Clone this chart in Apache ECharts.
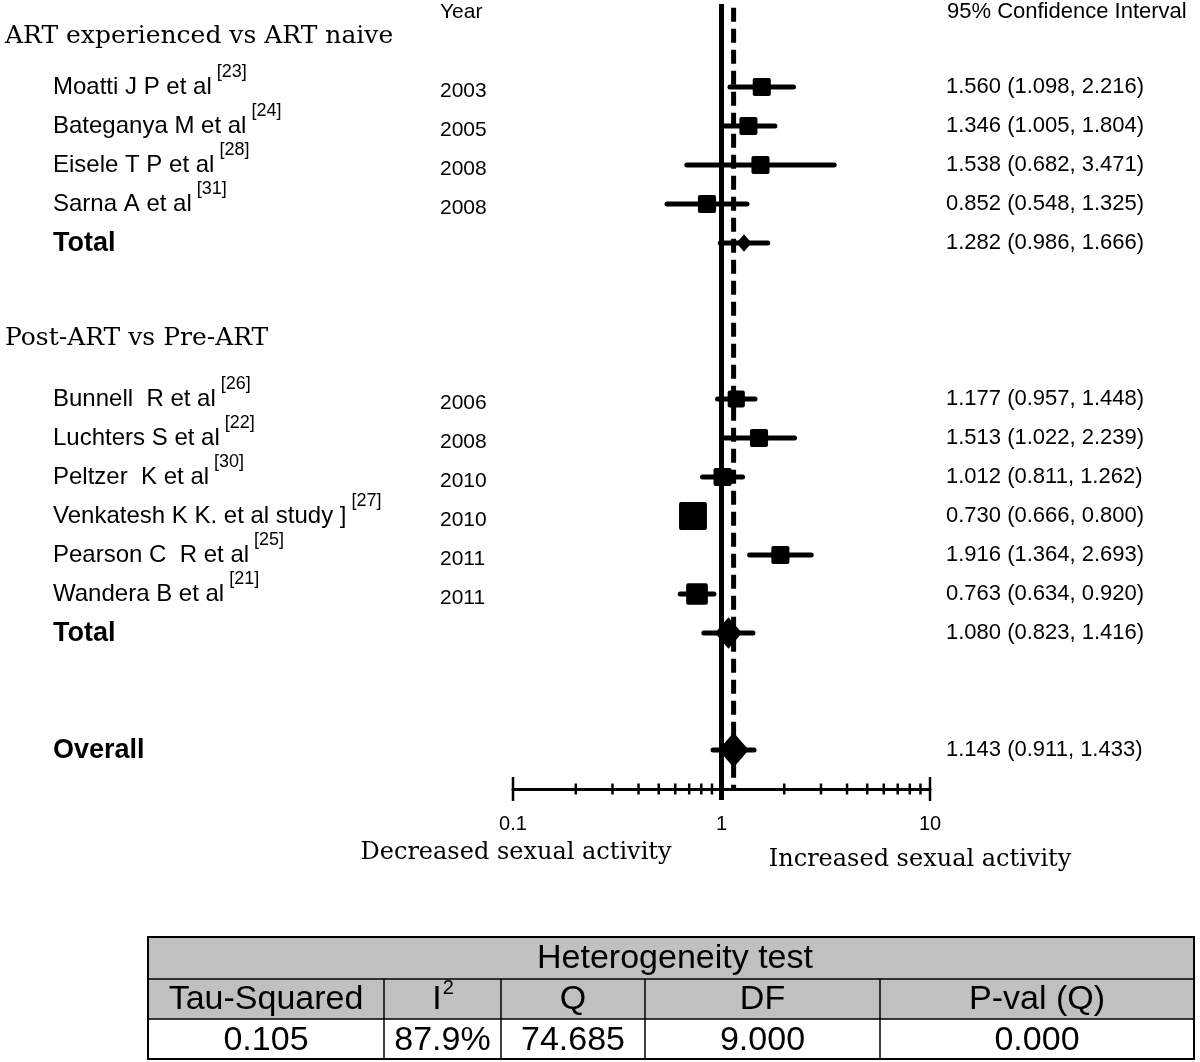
<!DOCTYPE html>
<html>
<head>
<meta charset="utf-8">
<script src="https://cdn.jsdelivr.net/npm/echarts@6/dist/echarts.min.js"></script>
<style>
html,body{margin:0;padding:0;background:#fff;}
#chart{width:1200px;height:1062px;}
</style>
</head>
<body>
<div id="chart"></div>
<script>
// ---------------- data ----------------
const sectionTitles = ['ART experienced vs ART naive', 'Post-ART vs Pre-ART'];
const studyNames = ['Moatti J P et al', 'Bateganya M et al', 'Eisele T P et al', 'Sarna A et al',
  'Bunnell  R et al', 'Luchters S et al', 'Peltzer  K et al', 'Venkatesh K K. et al study ]',
  'Pearson C  R et al', 'Wandera B et al'];
const studyRefs = ['[23]', '[24]', '[28]', '[31]', '[26]', '[22]', '[30]', '[27]', '[25]', '[21]'];
const studyYears = ['2003', '2005', '2008', '2008', '2006', '2008', '2010', '2010', '2011', '2011'];
const studySection = [0, 0, 0, 0, 1, 1, 1, 1, 1, 1];
const studyOR = [1.560, 1.346, 1.538, 0.852, 1.177, 1.513, 1.012, 0.730, 1.916, 0.763];
const studyLow = [1.098, 1.005, 0.682, 0.548, 0.957, 1.022, 0.811, 0.666, 1.364, 0.634];
const studyHigh = [2.216, 1.804, 3.471, 1.325, 1.448, 2.239, 1.262, 0.800, 2.693, 0.920];
const studyWeight = [8, 8, 8, 8, 7.2, 8, 8, 19, 8, 11.5]; // relative weights
const pooledNames = ['Total', 'Total', 'Overall'];
const pooledOR = [1.282, 1.080, 1.143];
const pooledLow = [0.986, 0.823, 0.911];
const pooledHigh = [1.666, 1.416, 1.433];
const pooledWeight = [5, 16, 20];
const xTickValues = [0.1, 1, 10];
const xTickLabels = ['0.1', '1', '10'];
const minorTickValues = [0.2, 0.3, 0.4, 0.5, 0.6, 0.7, 0.8, 0.9, 2, 3, 4, 5, 6, 7, 8, 9];
const endTickValues = [0.1, 10];
const headerYear = 'Year';
const headerCI = '95% Confidence Interval';
const sideLabels = ['Decreased sexual activity', 'Increased sexual activity'];
const hetTitle = 'Heterogeneity test';
const hetHeaders = ['Tau-Squared', 'I', 'Q', 'DF', 'P-val (Q)'];
const hetHeaderSup = ['', '2', '', '', ''];
const hetValues = ['0.105', '87.9%', '74.685', '9.000', '0.000'];

// ---------------- layout ----------------
const SANS = '"Liberation Sans", Arial, sans-serif';
const SERIF = '"DejaVu Serif", serif';
const rows = [];
let pos = 0;
sectionTitles.forEach((t, s) => {
  rows.push({ kind: 'header', s: s, pos: pos - (s === 0 ? 1.3 : 1.56) });
  studySection.forEach((sec, i) => {
    if (sec === s) { rows.push({ kind: 'study', i: i, pos: pos }); pos += 1; }
  });
  rows.push({ kind: 'pooled', i: s, pos: pos });
  pos += 4;
});
rows.push({ kind: 'pooled', i: 2, pos: pos - 1 });

const measureCtx = document.createElement('canvas').getContext('2d');
function textWidth(t, font) { measureCtx.font = font; return measureCtx.measureText(t).width; }

const fmt = v => v.toFixed(3);
const forestData = [];
const textData = [];
rows.forEach((r, k) => {
  if (r.kind === 'study') {
    const w = studyWeight[r.i];
    forestData.push([studyOR[r.i], r.pos, studyLow[r.i], studyHigh[r.i], 6.4 * Math.sqrt(w), 0]);
  } else if (r.kind === 'pooled') {
    const w = pooledWeight[r.i];
    forestData.push([pooledOR[r.i], r.pos, pooledLow[r.i], pooledHigh[r.i], 7.5 * Math.sqrt(w), 1]);
  }
  textData.push([1, r.pos, k]);
});

const chart = echarts.init(document.getElementById('chart'), null, { renderer: 'canvas' });

function textEl(text, x, y, font, align, va) {
  return { type: 'text', style: { text: text, x: x, y: y, font: font, fill: '#000', align: align || 'left', verticalAlign: va || 'middle' } };
}

const option = {
  animation: false,
  backgroundColor: '#ffffff',
  grid: { left: 513, top: 9, width: 417, height: 780, containLabel: false, outerBoundsMode: 'none' },
  xAxis: {
    type: 'log', logBase: 10, min: 0.1, max: 10,
    axisLine: { show: true, onZero: false, lineStyle: { color: '#000', width: 3 } },
    axisTick: { show: false }, minorTick: { show: false },
    splitLine: { show: false },
    axisLabel: {
      color: '#000', fontSize: 20, fontFamily: SANS, margin: 25,
      formatter: v => {
        let best = 0;
        xTickValues.forEach((t, j) => { if (Math.abs(Math.log10(t) - Math.log10(v)) < Math.abs(Math.log10(xTickValues[best]) - Math.log10(v))) best = j; });
        return xTickLabels[best];
      }
    }
  },
  yAxis: { type: 'value', inverse: true, min: -2, max: 18, show: false },
  series: [
    {
      type: 'line', data: [[1, -2.13], [1, 18.28]], showSymbol: false, symbol: 'none', clip: false, silent: true,
      lineStyle: { color: '#000', width: 5 }, z: 3
    },
    {
      type: 'line', data: [[pooledOR[2], -2.03], [pooledOR[2], 18.0]], showSymbol: false, symbol: 'none', clip: false, silent: true,
      lineStyle: { color: '#000', width: 5, type: [14, 7] }, z: 3
    },
    {
      type: 'custom', clip: false, silent: true, z: 4,
      data: minorTickValues.map(v => [v, 18, 5.5]).concat(endTickValues.map(v => [v, 18, 12])),
      renderItem: (params, api) => {
        const p = api.coord([api.value(0), api.value(1)]);
        const len = api.value(2);
        return { type: 'line', shape: { x1: p[0], y1: p[1] - len, x2: p[0], y2: p[1] + len }, style: { stroke: '#000', lineWidth: 2.5 } };
      }
    },
    {
      type: 'custom', clip: false, silent: true, z: 5,
      dimensions: ['or', 'pos', 'lo', 'hi', 'size', 'kind'],
      encode: { x: 0, y: 1 },
      data: forestData,
      renderItem: (params, api) => {
        const y = api.value(1);
        const c = api.coord([api.value(0), y]);
        const l = api.coord([api.value(2), y]);
        const h = api.coord([api.value(3), y]);
        const s = api.value(4);
        const kind = api.value(5);
        const children = [
          { type: 'line', shape: { x1: l[0], y1: c[1], x2: h[0], y2: c[1] }, style: { stroke: '#000', lineWidth: 5, lineCap: 'round' } }
        ];
        if (kind === 0) {
          children.push({ type: 'rect', shape: { x: c[0] - s / 2, y: c[1] - s / 2, width: s, height: s, r: 2 }, style: { fill: '#000' } });
        } else {
          const w = s * 0.9, hh = s * 1.05;
          children.push({ type: 'polygon', shape: { points: [[c[0], c[1] - hh / 2], [c[0] + w / 2, c[1]], [c[0], c[1] + hh / 2], [c[0] - w / 2, c[1]]] }, style: { fill: '#000' } });
        }
        return { type: 'group', children: children };
      }
    },
    {
      type: 'custom', clip: false, silent: true, z: 6,
      data: textData,
      renderItem: (params, api) => {
        const r = rows[api.value(2)];
        const y = api.coord([1, api.value(1)])[1];
        const ch = [];
        const ciFont = '22px ' + SANS;
        if (r.kind === 'header') {
          ch.push(textEl(sectionTitles[r.s], 5, y, '25px ' + SERIF));
        } else if (r.kind === 'study') {
          const nf = '24px ' + SANS;
          const name = studyNames[r.i];
          ch.push(textEl(name, 53, y, nf));
          const w = textWidth(name, nf);
          ch.push(textEl(studyRefs[r.i], 53 + w + 5, y - 15, '18px ' + SANS));
          ch.push(textEl(studyYears[r.i], 440, y + 4, '21px ' + SANS));
          ch.push(textEl(fmt(studyOR[r.i]) + ' (' + fmt(studyLow[r.i]) + ', ' + fmt(studyHigh[r.i]) + ')', 946, y, ciFont));
        } else {
          ch.push(textEl(pooledNames[r.i], 53, y + 1, 'bold 27px ' + SANS));
          ch.push(textEl(fmt(pooledOR[r.i]) + ' (' + fmt(pooledLow[r.i]) + ', ' + fmt(pooledHigh[r.i]) + ')', 946, y, ciFont));
        }
        return { type: 'group', children: ch };
      }
    }
  ],
  graphic: []
};

// headers, side labels, heterogeneity table
const g = [];
g.push({ type: 'text', left: 440, top: 2, style: { text: headerYear, font: '21px ' + SANS, fill: '#000' } });
g.push({ type: 'text', left: 947, top: 1, style: { text: headerCI, font: '22px ' + SANS, fill: '#000' } });
g.push({ type: 'text', x: 516, y: 853, style: { text: sideLabels[0], font: '24px ' + SERIF, fill: '#000', align: 'center', verticalAlign: 'middle' } });
g.push({ type: 'text', x: 920, y: 860, style: { text: sideLabels[1], font: '24px ' + SERIF, fill: '#000', align: 'center', verticalAlign: 'middle' } });

const TL = 148, TR = 1194, rowY = [937, 979, 1019, 1060];
const colX = [TL, 384, 501, 645, 880, TR];
const TF = '34px ' + SANS;
g.push({ type: 'rect', shape: { x: TL, y: rowY[0], width: TR - TL, height: rowY[2] - rowY[0] }, style: { fill: '#c0c0c0' } });
g.push({ type: 'rect', shape: { x: TL, y: rowY[2], width: TR - TL, height: rowY[3] - rowY[2] }, style: { fill: '#ffffff' } });
g.push({ type: 'line', shape: { x1: TL, y1: rowY[1], x2: TR, y2: rowY[1] }, style: { stroke: '#000', lineWidth: 1.5 } });
g.push({ type: 'line', shape: { x1: TL, y1: rowY[2], x2: TR, y2: rowY[2] }, style: { stroke: '#000', lineWidth: 1.5 } });
for (let j = 1; j < colX.length - 1; j++) {
  g.push({ type: 'line', shape: { x1: colX[j], y1: rowY[1], x2: colX[j], y2: rowY[3] }, style: { stroke: '#000', lineWidth: 1.5 } });
}
g.push({ type: 'rect', shape: { x: TL, y: rowY[0], width: TR - TL, height: rowY[3] - rowY[0] - 1 }, style: { fill: 'none', stroke: '#000', lineWidth: 2 } });
g.push({ type: 'text', x: (TL + TR) / 2 + 4, y: (rowY[0] + rowY[1]) / 2 + 1, style: { text: hetTitle, font: TF, fill: '#000', align: 'center', verticalAlign: 'middle' } });
hetHeaders.forEach((h, j) => {
  const cx = (colX[j] + colX[j + 1]) / 2;
  const cy = (rowY[1] + rowY[2]) / 2 + 1;
  if (hetHeaderSup[j]) {
    const wMain = textWidth(h, TF);
    const wSup = textWidth(hetHeaderSup[j], '20px ' + SANS);
    const x0 = cx - (wMain + wSup) / 2;
    g.push({ type: 'text', x: x0, y: cy, style: { text: h, font: TF, fill: '#000', align: 'left', verticalAlign: 'middle' } });
    g.push({ type: 'text', x: x0 + wMain + 1, y: cy - 12, style: { text: hetHeaderSup[j], font: '20px ' + SANS, fill: '#000', align: 'left', verticalAlign: 'middle' } });
  } else {
    g.push({ type: 'text', x: cx, y: cy, style: { text: h, font: TF, fill: '#000', align: 'center', verticalAlign: 'middle' } });
  }
  g.push({ type: 'text', x: cx, y: (rowY[2] + rowY[3]) / 2 + 1, style: { text: hetValues[j], font: TF, fill: '#000', align: 'center', verticalAlign: 'middle' } });
});
option.graphic = g;

chart.setOption(option);
</script>
</body>
</html>
